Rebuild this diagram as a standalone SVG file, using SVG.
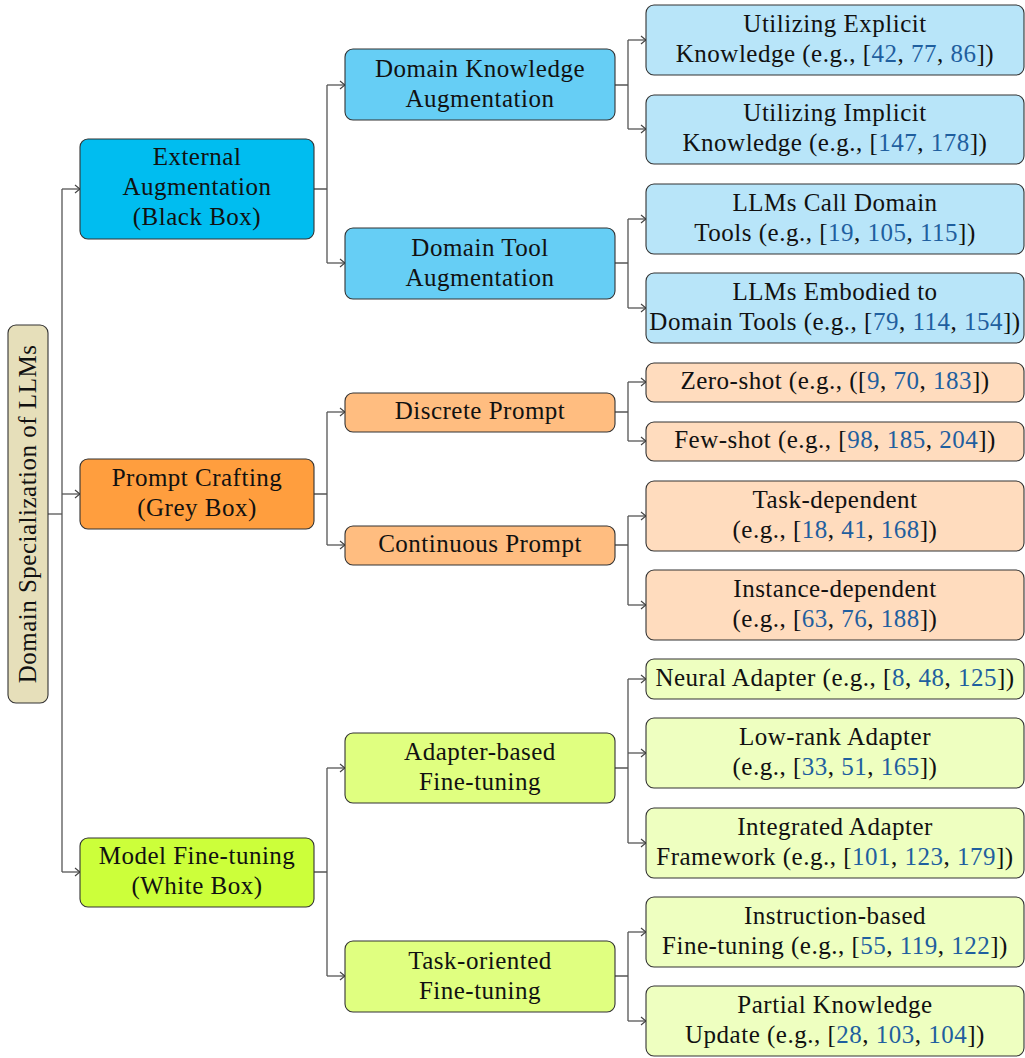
<svg xmlns="http://www.w3.org/2000/svg" width="1025" height="1058" viewBox="0 0 1025 1058">
<defs>
<marker id="arr" markerUnits="userSpaceOnUse" markerWidth="12" markerHeight="12" viewBox="-6 -6 12 12" refX="0" refY="0" orient="auto">
<path d="M -5 -4 Q -1.5 -1 0 0 Q -1.5 1 -5 4" fill="none" stroke="#444" stroke-width="1.1"/>
</marker>
</defs>
<style>
text{font-family:"Liberation Serif","Times New Roman",serif;font-size:25px;fill:#111;text-anchor:middle;letter-spacing:0.5px}
.b{stroke:#333;stroke-width:1.1}
.c{fill:#1F5F9F}
.root{fill:#E6DFBA}
.l1a{fill:#00BDF0}.l2a{fill:#66CEF5}.l3a{fill:#B8E5F9}
.l1b{fill:#FF9E3E}.l2b{fill:#FFBD80}.l3b{fill:#FFDCBE}
.l1c{fill:#CCFF3A}.l2c{fill:#E0FF80}.l3c{fill:#EEFFC0}
.con path{fill:none;stroke:#555;stroke-width:1.3}
</style>
<g class="con">
<path d="M48 514 H62"/>
<path d="M62 189 V872"/>
<path d="M62 189 H80" marker-end="url(#arr)"/>
<path d="M62 494 H80" marker-end="url(#arr)"/>
<path d="M62 872 H80" marker-end="url(#arr)"/>
<path d="M314 189 H327 M327 85 V263"/>
<path d="M327 85 H345" marker-end="url(#arr)"/>
<path d="M327 263 H345" marker-end="url(#arr)"/>
<path d="M314 494 H327 M327 412 V545"/>
<path d="M327 412 H345" marker-end="url(#arr)"/>
<path d="M327 545 H345" marker-end="url(#arr)"/>
<path d="M314 872 H327 M327 768 V976"/>
<path d="M327 768 H345" marker-end="url(#arr)"/>
<path d="M327 976 H345" marker-end="url(#arr)"/>
<path d="M615 85 H628 M628 40 V129"/>
<path d="M628 40 H646" marker-end="url(#arr)"/>
<path d="M628 129 H646" marker-end="url(#arr)"/>
<path d="M615 263 H628 M628 219 V308"/>
<path d="M628 219 H646" marker-end="url(#arr)"/>
<path d="M628 308 H646" marker-end="url(#arr)"/>
<path d="M615 412 H628 M628 382 V441"/>
<path d="M628 382 H646" marker-end="url(#arr)"/>
<path d="M628 441 H646" marker-end="url(#arr)"/>
<path d="M615 545 H628 M628 516 V605"/>
<path d="M628 516 H646" marker-end="url(#arr)"/>
<path d="M628 605 H646" marker-end="url(#arr)"/>
<path d="M615 768 H628 M628 679 V843"/>
<path d="M628 679 H646" marker-end="url(#arr)"/>
<path d="M628 753 H646" marker-end="url(#arr)"/>
<path d="M628 843 H646" marker-end="url(#arr)"/>
<path d="M615 976 H628 M628 932 V1021"/>
<path d="M628 932 H646" marker-end="url(#arr)"/>
<path d="M628 1021 H646" marker-end="url(#arr)"/>
</g>
<g id="root"><rect class="b root" x="8" y="325" width="40" height="378" rx="8"/>
<text transform="translate(36,514) rotate(-90)">Domain Specialization of LLMs</text></g>

<g id="external"><rect class="b l1a" x="80" y="139" width="234" height="100" rx="8"/>
<text x="197" y="165">External</text><text x="197" y="195">Augmentation</text><text x="197" y="225">(Black Box)</text></g>
<g id="prompt"><rect class="b l1b" x="80" y="459" width="234" height="70" rx="8"/>
<text x="197" y="486">Prompt Crafting</text><text x="197" y="516">(Grey Box)</text></g>
<g id="finetune"><rect class="b l1c" x="80" y="838" width="234" height="69" rx="8"/>
<text x="197" y="864">Model Fine-tuning</text><text x="197" y="894">(White Box)</text></g>

<g id="dka"><rect class="b l2a" x="345" y="49" width="270" height="71" rx="8"/>
<text x="480" y="77">Domain Knowledge</text><text x="480" y="107">Augmentation</text></g>
<g id="dta"><rect class="b l2a" x="345" y="228" width="270" height="71" rx="8"/>
<text x="480" y="256">Domain Tool</text><text x="480" y="286">Augmentation</text></g>
<g id="discrete"><rect class="b l2b" x="345" y="393" width="270" height="39" rx="8"/>
<text x="480" y="419">Discrete Prompt</text></g>
<g id="continuous"><rect class="b l2b" x="345" y="526" width="270" height="39" rx="8"/>
<text x="480" y="552">Continuous Prompt</text></g>
<g id="adapter"><rect class="b l2c" x="345" y="733" width="270" height="70" rx="8"/>
<text x="480" y="760">Adapter-based</text><text x="480" y="790">Fine-tuning</text></g>
<g id="task"><rect class="b l2c" x="345" y="941" width="270" height="71" rx="8"/>
<text x="480" y="969">Task-oriented</text><text x="480" y="999">Fine-tuning</text></g>

<g id="explicit"><rect class="b l3a" x="646" y="5" width="378" height="70" rx="8"/>
<text x="835" y="32">Utilizing Explicit</text><text x="835" y="62">Knowledge (e.g., [<tspan class="c">42</tspan>, <tspan class="c">77</tspan>, <tspan class="c">86</tspan>])</text></g>
<g id="implicit"><rect class="b l3a" x="646" y="95" width="378" height="69" rx="8"/>
<text x="835" y="121">Utilizing Implicit</text><text x="835" y="151">Knowledge (e.g., [<tspan class="c">147</tspan>, <tspan class="c">178</tspan>])</text></g>
<g id="calltools"><rect class="b l3a" x="646" y="184" width="378" height="70" rx="8"/>
<text x="835" y="211">LLMs Call Domain</text><text x="835" y="241">Tools (e.g., [<tspan class="c">19</tspan>, <tspan class="c">105</tspan>, <tspan class="c">115</tspan>])</text></g>
<g id="embodied"><rect class="b l3a" x="646" y="273" width="378" height="70" rx="8"/>
<text x="835" y="300">LLMs Embodied to</text><text x="835" y="330">Domain Tools (e.g., [<tspan class="c">79</tspan>, <tspan class="c">114</tspan>, <tspan class="c">154</tspan>])</text></g>
<g id="zeroshot"><rect class="b l3b" x="646" y="363" width="378" height="39" rx="8"/>
<text x="835" y="389">Zero-shot (e.g., ([<tspan class="c">9</tspan>, <tspan class="c">70</tspan>, <tspan class="c">183</tspan>])</text></g>
<g id="fewshot"><rect class="b l3b" x="646" y="422" width="378" height="39" rx="8"/>
<text x="835" y="448">Few-shot (e.g., [<tspan class="c">98</tspan>, <tspan class="c">185</tspan>, <tspan class="c">204</tspan>])</text></g>
<g id="taskdep"><rect class="b l3b" x="646" y="481" width="378" height="70" rx="8"/>
<text x="835" y="508">Task-dependent</text><text x="835" y="538">(e.g., [<tspan class="c">18</tspan>, <tspan class="c">41</tspan>, <tspan class="c">168</tspan>])</text></g>
<g id="instdep"><rect class="b l3b" x="646" y="570" width="378" height="70" rx="8"/>
<text x="835" y="597">Instance-dependent</text><text x="835" y="627">(e.g., [<tspan class="c">63</tspan>, <tspan class="c">76</tspan>, <tspan class="c">188</tspan>])</text></g>
<g id="neural"><rect class="b l3c" x="646" y="659" width="378" height="40" rx="8"/>
<text x="835" y="686">Neural Adapter (e.g., [<tspan class="c">8</tspan>, <tspan class="c">48</tspan>, <tspan class="c">125</tspan>])</text></g>
<g id="lowrank"><rect class="b l3c" x="646" y="718" width="378" height="70" rx="8"/>
<text x="835" y="745">Low-rank Adapter</text><text x="835" y="775">(e.g., [<tspan class="c">33</tspan>, <tspan class="c">51</tspan>, <tspan class="c">165</tspan>])</text></g>
<g id="integrated"><rect class="b l3c" x="646" y="808" width="378" height="70" rx="8"/>
<text x="835" y="835">Integrated Adapter</text><text x="835" y="865">Framework (e.g., [<tspan class="c">101</tspan>, <tspan class="c">123</tspan>, <tspan class="c">179</tspan>])</text></g>
<g id="instruction"><rect class="b l3c" x="646" y="897" width="378" height="70" rx="8"/>
<text x="835" y="924">Instruction-based</text><text x="835" y="954">Fine-tuning (e.g., [<tspan class="c">55</tspan>, <tspan class="c">119</tspan>, <tspan class="c">122</tspan>])</text></g>
<g id="partial"><rect class="b l3c" x="646" y="986" width="378" height="70" rx="8"/>
<text x="835" y="1013">Partial Knowledge</text><text x="835" y="1043">Update (e.g., [<tspan class="c">28</tspan>, <tspan class="c">103</tspan>, <tspan class="c">104</tspan>])</text></g>
</svg>
